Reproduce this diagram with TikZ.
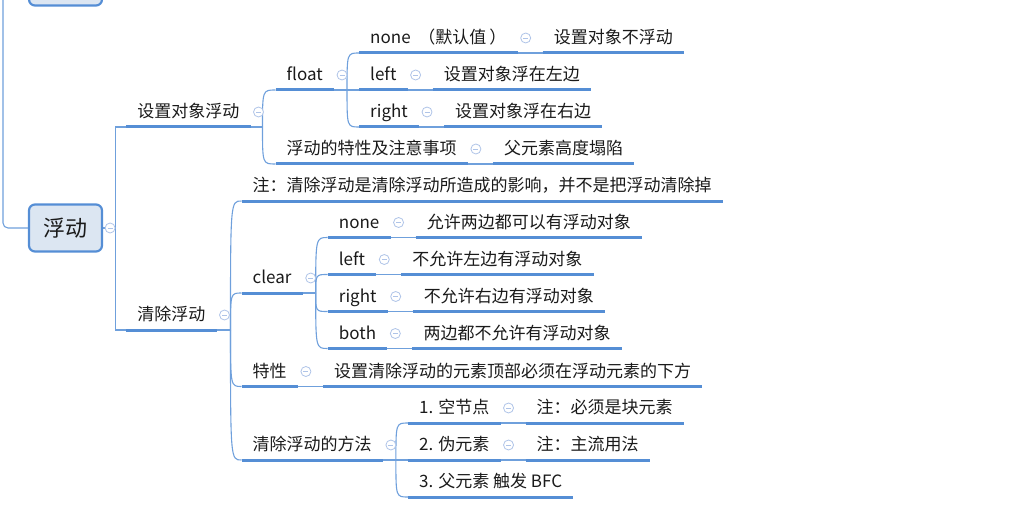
\documentclass[tikz,border=0pt]{standalone}
\usepackage{fontspec}
\usepackage{xcolor}
\usepackage{tikz}
\usetikzlibrary{positioning, calc}
\newfontfamily\cjk{Noto Sans CJK SC}
\definecolor{barblue}{HTML}{558ED5}
\definecolor{lineblue}{HTML}{6FA0DC}
\definecolor{foldblue}{HTML}{AFC4E8}
\definecolor{rootfill}{HTML}{DCE6F2}
\definecolor{inkgray}{HTML}{1A1A1A}

\begin{document}
\begin{tikzpicture}[
        x=1pt, y=-1pt,
        root/.style={rectangle, rounded corners=6pt, draw=barblue, line width=2.2pt, fill=rootfill, minimum width=73pt, minimum height=47pt, font=\cjk\fontsize{22}{22}\selectfont, text=inkgray},
        topic/.style={anchor=south west, inner xsep=11pt, inner ysep=6pt, text height=15pt, text depth=3pt, font=\cjk\fontsize{17}{17}\selectfont, text=inkgray},
        bar/.style={draw=barblue, line width=3pt},
        link/.style={draw=lineblue, line width=1.1pt},
        fold/.style={circle, draw=foldblue, fill=white, line width=0.8pt, minimum size=10pt, inner sep=0pt,
            path picture={\draw[foldblue, line width=0.9pt] ([xshift=-2.5pt]path picture bounding box.center) -- ([xshift=2.5pt]path picture bounding box.center);}}
    ]
    \useasboundingbox (0,0) rectangle (1019,513);
    \clip (0,0) rectangle (1019,513);

    % --- Root ---
    \node[root] (prev) at (65.5,-18) {};
    \node[root] (root) at (65.5,228) {浮动};
    \coordinate (up) at (3,-5);

    % --- Level 1 ---
    \node[topic] (set) at ([shift={(23,-101)}]root.east) {设置对象浮动};
    \node[topic] (clr) at ([shift={(23,102)}]root.east) {清除浮动};

    % 设置对象浮动
    \node[topic] (float) at ([shift={(25,-37)}]set.south east) {float};
    \node[topic] (prop) at ([shift={(25,37)}]set.south east) {浮动的特性及注意事项};
    \node[topic] (propD) at ([shift={(25,0)}]prop.south east) {父元素高度塌陷};

    \node[topic] (fnone) at ([shift={(25,-37)}]float.south east) {none\hspace{4pt} （默认值\hspace{3pt}）};
    \node[topic] (fleft) at ([shift={(25,0)}]float.south east) {left};
    \node[topic] (fright) at ([shift={(25,37)}]float.south east) {right};
    \node[topic] (fnoneD) at ([shift={(25,0)}]fnone.south east) {设置对象不浮动};
    \node[topic] (fleftD) at ([shift={(25,0)}]fleft.south east) {设置对象浮在左边};
    \node[topic] (frightD) at ([shift={(25,0)}]fright.south east) {设置对象浮在右边};

    % 清除浮动
    \node[topic] (note) at ([shift={(25,-129)}]clr.south east) {注：清除浮动是清除浮动所造成的影响，并不是把浮动清除掉};
    \node[topic] (clear) at ([shift={(25,-37)}]clr.south east) {clear};
    \node[topic] (trait) at ([shift={(25,56.5)}]clr.south east) {特性};
    \node[topic] (method) at ([shift={(25,130)}]clr.south east) {清除浮动的方法};

    \node[topic] (cnone) at ([shift={(25,-55.5)}]clear.south east) {none};
    \node[topic] (cleft) at ([shift={(25,-18.5)}]clear.south east) {left};
    \node[topic] (cright) at ([shift={(25,18.5)}]clear.south east) {right};
    \node[topic] (cboth) at ([shift={(25,55.5)}]clear.south east) {both};
    \node[topic] (cnoneD) at ([shift={(25,0)}]cnone.south east) {允许两边都可以有浮动对象};
    \node[topic] (cleftD) at ([shift={(25,0)}]cleft.south east) {不允许左边有浮动对象};
    \node[topic] (crightD) at ([shift={(25,0)}]cright.south east) {不允许右边有浮动对象};
    \node[topic] (cbothD) at ([shift={(25,0)}]cboth.south east) {两边都不允许有浮动对象};

    \node[topic] (traitD) at ([shift={(25,0)}]trait.south east) {设置清除浮动的元素顶部必须在浮动元素的下方};

    \node[topic] (m1) at ([shift={(25,-37)}]method.south east) {1. 空节点};
    \node[topic] (m2) at ([shift={(25,0)}]method.south east) {2. 伪元素};
    \node[topic] (m3) at ([shift={(25,37)}]method.south east) {3. 父元素 触发 BFC};
    \node[topic] (m1D) at ([shift={(25,0)}]m1.south east) {注：必须是块元素};
    \node[topic] (m2D) at ([shift={(25,0)}]m2.south east) {注：主流用法};

    % --- Links ---
    \draw[link, rounded corners=5pt] (up) |- (root.west);
    \draw[link] (root.east) -- ++(12,0) coordinate (rootfork);
    \draw[link] (rootfork) |- (set.south west);
    \draw[link] (rootfork) |- (clr.south west);

    \draw[link] (set.south east) -- ++(12,0) coordinate (setfork);
    \foreach \c in {float, prop}
        \draw[link] (setfork) .. controls (setfork |- \c.south west) .. (\c.south west);
    \draw[link] (float.south east) -- ++(13,0) coordinate (floatfork);
    \foreach \c in {fnone, fleft, fright}
        \draw[link] (floatfork) .. controls (floatfork |- \c.south west) .. (\c.south west);
    \draw[link] (clr.south east) -- ++(14,0) coordinate (clrfork);
    \foreach \c in {note, clear, trait, method}
        \draw[link] (clrfork) .. controls (clrfork |- \c.south west) .. (\c.south west);
    \draw[link] (clear.south east) -- ++(13,0) coordinate (clearfork);
    \foreach \c in {cnone, cleft, cright, cboth}
        \draw[link] (clearfork) .. controls (clearfork |- \c.south west) .. (\c.south west);
    \draw[link] (method.south east) -- ++(13,0) coordinate (methodfork);
    \foreach \c in {m1, m2, m3}
        \draw[link] (methodfork) .. controls (methodfork |- \c.south west) .. (\c.south west);

    % single children
    \foreach \a/\b in {prop/propD, fnone/fnoneD, fleft/fleftD, fright/frightD, cnone/cnoneD, cleft/cleftD, cright/crightD, cboth/cbothD, trait/traitD, m1/m1D, m2/m2D}
        \draw[link] (\a.south east) -- (\b.south west);

    % --- Underlines ---
    \foreach \n in {set, clr, float, prop, propD, fnone, fleft, fright, fnoneD, fleftD, frightD, note, clear, trait, method, cnone, cleft, cright, cboth, cnoneD, cleftD, crightD, cbothD, traitD, m1, m2, m3, m1D, m2D}
        \draw[bar] (\n.south west) -- (\n.south east);

    % --- Fold markers ---
    \node[fold] (root-f) at ([xshift=7pt]root.east) {};
    \foreach \n in {set, clr, float, prop, fnone, fleft, fright, clear, trait, method, cnone, cleft, cright, cboth, m1, m2}
        \node[fold] (\n-f) at ([shift={(8,-15)}]\n.south east) {};

\end{tikzpicture}
\end{document}
